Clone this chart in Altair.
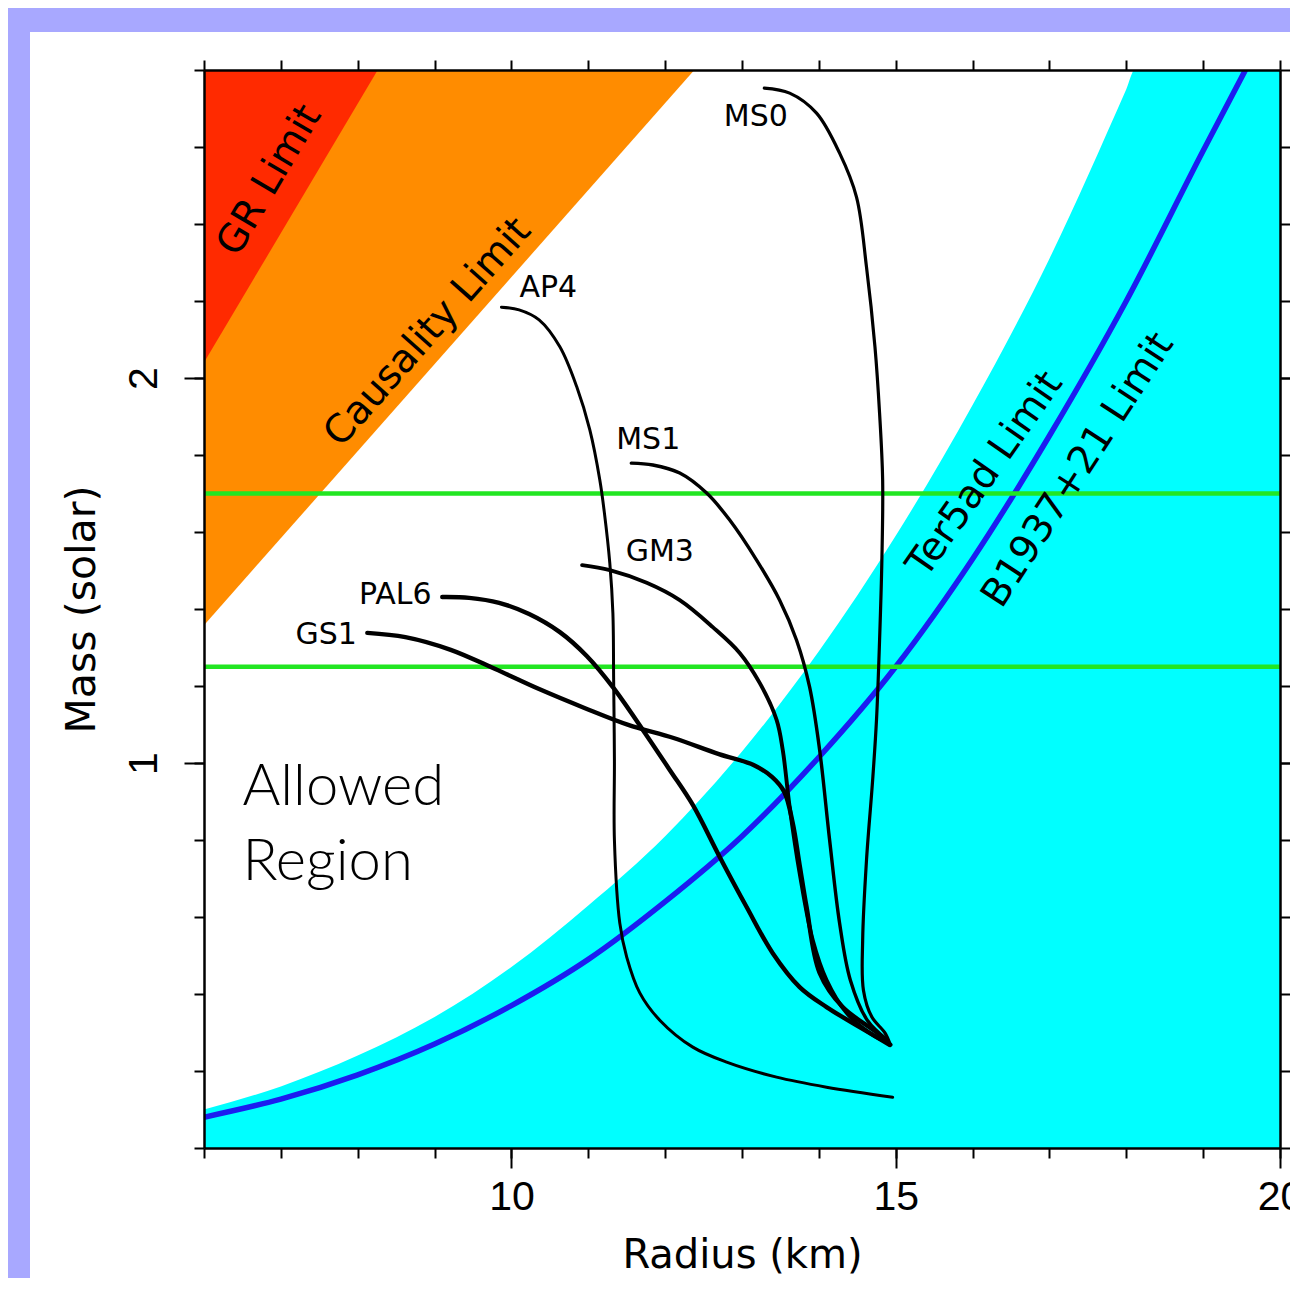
import altair as alt
import pandas as pd

# ---------------- data ----------------
# GR limit boundary (radius km, mass solar)
gr_r = [6.0, 8.26]
gr_m = [2.04, 2.80]
# Causality limit boundary
caus_r = [6.0, 12.38]
caus_m = [1.358, 2.80]
# Ter5ad spin limit (edge of cyan region)
ter_r = [6, 7, 8, 9, 10, 11, 12, 13, 14, 15, 16, 17, 18, 18.11, 20]
ter_m = [0.10, 0.16, 0.24, 0.34, 0.47, 0.63, 0.81, 1.03, 1.29, 1.59, 1.93, 2.31, 2.75, 2.80, 2.80]
# B1937+21 spin limit (blue curve)
b19_r = [6, 7, 8, 9, 10, 11, 12, 13, 14, 15, 16, 17, 18, 19, 19.55]
b19_m = [0.080, 0.127, 0.19, 0.27, 0.37, 0.49, 0.64, 0.81, 1.015, 1.25, 1.53, 1.85, 2.20, 2.59, 2.80]
# measured pulsar masses (green lines)
green_m = [1.70, 1.25]

# equations of state
eos_names = ["MS0", "AP4", "MS1", "GM3", "PAL6", "GS1"]
eos_width = [3.2, 3.0, 3.4, 3.9, 4.4, 4.4]
MS0_R = [13.29, 13.62, 13.97, 14.27, 14.49, 14.62, 14.73, 14.79, 14.83, 14.82, 14.79, 14.75, 14.70, 14.62, 14.57, 14.58, 14.69, 14.86, 14.93]
MS0_M = [2.753, 2.740, 2.688, 2.584, 2.470, 2.288, 2.081, 1.909, 1.735, 1.527, 1.319, 1.112, 0.956, 0.748, 0.540, 0.410, 0.340, 0.299, 0.268]
AP4_R = [9.87, 10.10, 10.36, 10.63, 10.85, 11.02, 11.15, 11.21, 11.28, 11.32, 11.33, 11.34, 11.34, 11.41, 11.50, 11.67, 11.93, 12.36, 12.80, 13.45, 14.10, 14.96]
AP4_M = [2.184, 2.177, 2.151, 2.081, 1.977, 1.865, 1.735, 1.649, 1.519, 1.390, 1.216, 1.008, 0.800, 0.584, 0.496, 0.403, 0.332, 0.262, 0.223, 0.184, 0.158, 0.132]
MS1_R = [11.56, 11.84, 12.19, 12.54, 12.84, 13.19, 13.49, 13.71, 13.88, 14.01, 14.14, 14.27, 14.41, 14.63, 14.89]
MS1_M = [1.779, 1.774, 1.753, 1.701, 1.631, 1.527, 1.423, 1.319, 1.197, 1.034, 0.800, 0.584, 0.436, 0.332, 0.281]
GM3_R = [10.92, 11.28, 11.76, 12.19, 12.62, 12.97, 13.23, 13.45, 13.53, 13.62, 13.75, 13.92, 14.10, 14.36, 14.66, 14.90]
GM3_M = [1.514, 1.501, 1.468, 1.423, 1.353, 1.286, 1.208, 1.112, 1.034, 0.886, 0.714, 0.540, 0.436, 0.351, 0.299, 0.273]
PAL6_R = [9.10, 9.45, 9.84, 10.23, 10.63, 10.98, 11.32, 11.71, 12.06, 12.36, 12.71, 13.06, 13.40, 13.75, 14.10, 14.53, 14.92]
PAL6_M = [1.431, 1.429, 1.416, 1.387, 1.340, 1.278, 1.197, 1.086, 0.982, 0.891, 0.756, 0.626, 0.506, 0.418, 0.366, 0.314, 0.268]
GS1_R = [8.125, 8.62, 9.21, 9.79, 10.36, 10.95, 11.52, 12.11, 12.70, 13.15, 13.39, 13.55, 13.66, 13.75, 13.84, 14.01, 14.31, 14.76, 14.93]
GS1_M = [1.338, 1.327, 1.294, 1.244, 1.192, 1.143, 1.099, 1.065, 1.023, 0.995, 0.964, 0.925, 0.844, 0.735, 0.626, 0.455, 0.366, 0.299, 0.268]
eos_R = [MS0_R, AP4_R, MS1_R, GM3_R, PAL6_R, GS1_R]
eos_M = [MS0_M, AP4_M, MS1_M, GM3_M, PAL6_M, GS1_M]

# labels of the curves
eos_lab_r = [13.18, 10.48, 11.78, 11.93, 8.49, 7.59]
eos_lab_m = [2.678, 2.234, 1.839, 1.548, 1.436, 1.332]

limit_labels = ["GR Limit", "Causality Limit", "Ter5ad Limit", "B1937+21 Limit"]
limit_lab_r = [6.85, 8.91, 16.16, 17.37]
limit_lab_m = [2.514, 2.119, 1.750, 1.761]
limit_lab_angle = [300.5, 311.5, 305, 303]

region_text = ["Allowed", "Region"]
region_r = [6.50, 6.50]
region_m = [0.891, 0.696]

x_ticks_minor = list(range(6, 21))
x_ticks_major = [10, 15, 20]
y_ticks_minor = [0, 0.2, 0.4, 0.6, 0.8, 1.0, 1.2, 1.4, 1.6, 1.8, 2.0, 2.2, 2.4, 2.6, 2.8]
y_ticks_major = [1, 2]

# ---------------- build tables ----------------
gr_df = pd.DataFrame({"R": gr_r, "M": gr_m})
caus_df = pd.DataFrame({"R": caus_r, "M": caus_m})
ter_df = pd.DataFrame({"R": ter_r, "M": ter_m})
b19_df = pd.DataFrame({"R": b19_r, "M": b19_m})
green_df = pd.DataFrame({"M": green_m})
rows = []
for name, w, rr, mm in zip(eos_names, eos_width, eos_R, eos_M):
    for i, (r, m) in enumerate(zip(rr, mm)):
        rows.append({"series": name, "i": i, "R": r, "M": m, "w": w})
eos_df = pd.DataFrame(rows)
eos_lab_df = pd.DataFrame({"label": eos_names, "R": eos_lab_r, "M": eos_lab_m})
lim_df = pd.DataFrame({"label": limit_labels, "R": limit_lab_r, "M": limit_lab_m, "angle": limit_lab_angle})
region_df = pd.DataFrame({"label": region_text, "R": region_r, "M": region_m})
anchor_df = pd.DataFrame({"R": [6.0], "M": [0.0]})
dummy = pd.DataFrame({"a": [0]})

xs = alt.Scale(domain=[6, 20], nice=False, zero=False)
ys = alt.Scale(domain=[0, 2.8], nice=False, zero=False)


def X(axis=None):
    return alt.X("R:Q", scale=xs, axis=axis)


def Y(axis=None):
    return alt.Y("M:Q", scale=ys, axis=axis)


W, H = 1076, 1078

panel = alt.Chart(dummy).mark_rect(fill="white", clip=False).encode(
    x=alt.value(-174), x2=alt.value(W + 20), y=alt.value(-38), y2=alt.value(H + 200)
)

cyan = alt.Chart(ter_df).mark_area(color="#00ffff", interpolate="monotone", clip=True).encode(
    x=X(), y=Y(), y2=alt.datum(0)
)
orange = alt.Chart(caus_df).mark_area(color="#ff8c00", clip=True).encode(
    x=X(), y=Y(), y2=alt.datum(2.8)
)
red = alt.Chart(gr_df).mark_area(color="#ff2a00", clip=True).encode(
    x=X(), y=Y(), y2=alt.datum(2.8)
)
blue = alt.Chart(b19_df).mark_line(color="#1c1cf0", strokeWidth=5.5, interpolate="monotone", clip=True).encode(
    x=X(), y=Y()
)
green = alt.Chart(green_df).mark_rule(color="#22e622", strokeWidth=4.5).encode(y=Y())
eos = alt.Chart(eos_df).mark_line(color="black", interpolate="catmull-rom", strokeCap="round", clip=True).encode(
    x=X(), y=Y(), detail="series:N", order="i:Q", strokeWidth=alt.StrokeWidth("w:Q", scale=None)
)
eos_text = alt.Chart(eos_lab_df).mark_text(
    font="DejaVu Sans", fontSize=30, color="black", align="center", baseline="middle"
).encode(x=X(), y=Y(), text="label:N")
lim_text = alt.Chart(lim_df).mark_text(
    font="DejaVu Sans", fontSize=39, color="black", align="center", baseline="middle"
).encode(x=X(), y=Y(), text="label:N", angle=alt.Angle("angle:Q", scale=None))
region_txt = alt.Chart(region_df).mark_text(
    font="Lato", fontWeight=300, fontSize=58, color="black", align="left", baseline="alphabetic"
).encode(x=X(), y=Y(), text="label:N")

common = dict(grid=False, zindex=1, tickColor="black", domainColor="black", tickWidth=2,
              domainWidth=2.5, labelColor="black", titleColor="black")

ax_b_minor = alt.Axis(orient="bottom", values=x_ticks_minor, tickSize=10, labels=False, title=None,
                      domain=True, **common)
ax_b_major = alt.Axis(orient="bottom", values=x_ticks_major, tickSize=20, labels=True, format="d",
                      labelFont="Liberation Sans", labelFontSize=41, labelPadding=29,
                      labelBaseline="middle", labelAlign="center", labelFlush=False, labelOverlap=False,
                      title="Radius (km)", titleFont="DejaVu Sans", titleFontSize=40,
                      titleFontWeight="normal", titleX=538, titleY=119, titleAlign="center",
                      titleBaseline="alphabetic", domain=False, **common)
ax_t = alt.Axis(orient="top", values=x_ticks_minor, tickSize=10, labels=False, title=None,
                domain=True, **common)
ax_l_minor = alt.Axis(orient="left", values=y_ticks_minor, tickSize=10, labels=False, title=None,
                      domain=True, **common)
ax_l_major = alt.Axis(orient="left", values=y_ticks_major, tickSize=20, labels=True, format="d",
                      labelFont="Liberation Sans", labelFontSize=41, labelPadding=40,
                      labelAngle=270, labelAlign="center", labelBaseline="middle",
                      labelFlush=False, labelOverlap=False,
                      title="Mass (solar)", titleFont="DejaVu Sans", titleFontSize=41,
                      titleFontWeight="normal", titleAngle=270, titleX=-122, titleY=539,
                      titleAlign="center", titleBaseline="middle", domain=False, **common)
ax_r_minor = alt.Axis(orient="right", values=y_ticks_minor, tickSize=10, labels=False, title=None,
                      domain=True, **common)
ax_r_major = alt.Axis(orient="right", values=y_ticks_major, tickSize=20, labels=False, title=None,
                      domain=False, **common)

axis1 = alt.Chart(anchor_df).mark_point(opacity=0).encode(x=X(ax_b_minor), y=Y(ax_l_minor))
axis2 = alt.Chart(anchor_df).mark_point(opacity=0).encode(x=X(ax_b_major), y=Y(ax_l_major))
axis3 = alt.Chart(anchor_df).mark_point(opacity=0).encode(x=X(ax_t), y=Y(ax_r_minor))
axis4 = alt.Chart(anchor_df).mark_point(opacity=0).encode(x=X(None), y=Y(ax_r_major))

chart = alt.layer(
    panel, cyan, orange, red, blue, green, eos, eos_text, lim_text, region_txt,
    axis1, axis2, axis3, axis4
).resolve_axis(x="independent", y="independent").properties(
    width=W, height=H,
    autosize=alt.AutoSizeParams(type="none"),
    padding={"left": 196, "top": 62, "right": 10, "bottom": 130},
    background="#a8a8ff",
).configure_view(strokeWidth=0)

chart.save("out.html", embed_options={"renderer": "svg", "actions": False})
